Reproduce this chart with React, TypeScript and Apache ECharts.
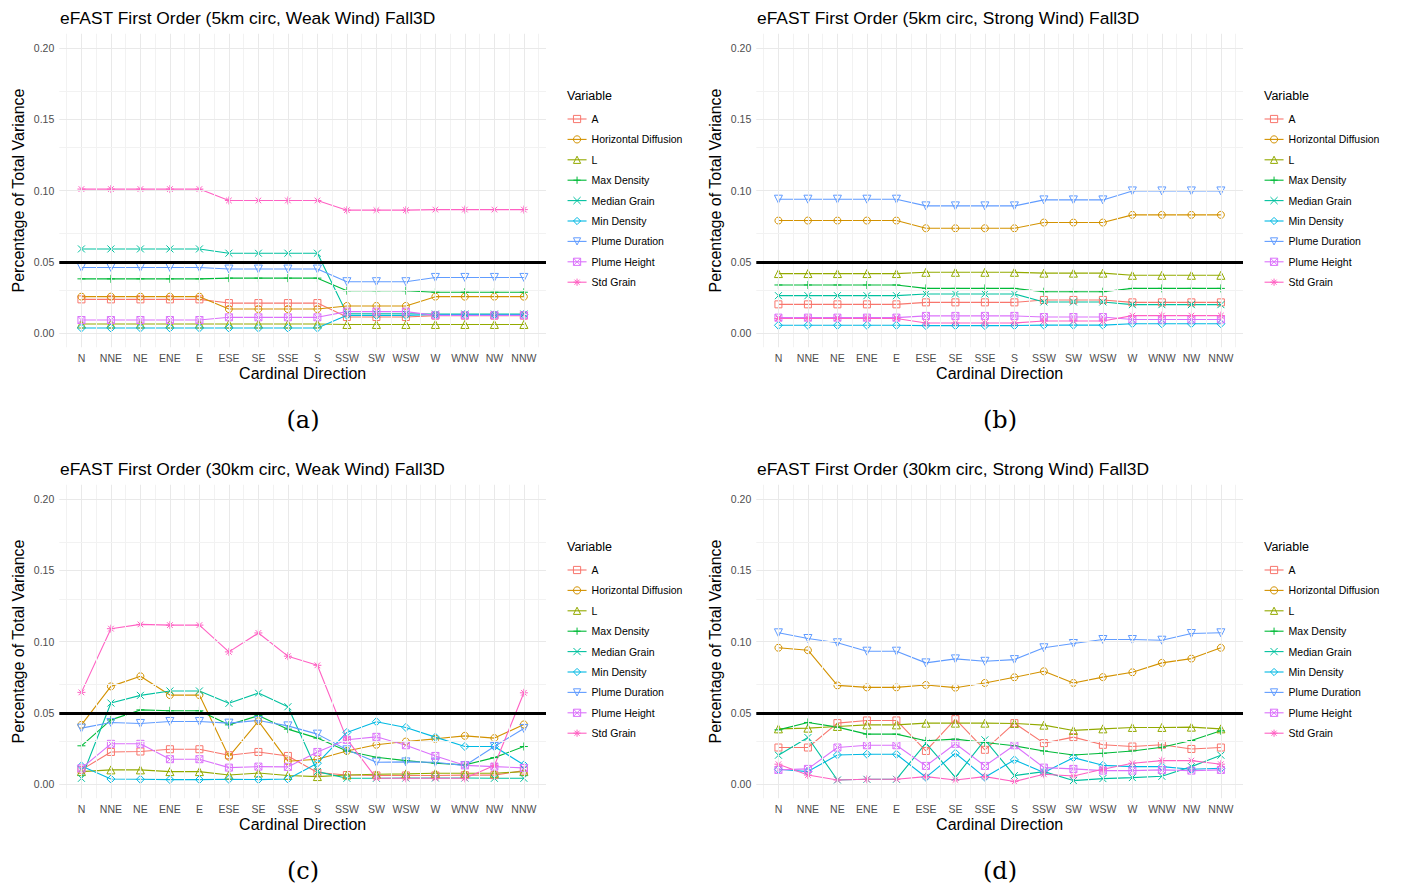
import React, { useEffect, useRef } from 'react';
import * as echarts from 'echarts';

const directions = ['N', 'NNE', 'NE', 'ENE', 'E', 'ESE', 'SE', 'SSE', 'S', 'SSW', 'SW', 'WSW', 'W', 'WNW', 'NW', 'NNW'];
const variables = ['A', 'Horizontal Diffusion', 'L', 'Max Density', 'Median Grain', 'Min Density', 'Plume Duration', 'Plume Height', 'Std Grain'];
const colors = ['#F8766D', '#D39200', '#93AA00', '#00BA38', '#00C19F', '#00B9E3', '#619CFF', '#DB72FB', '#FF61C3'];
const yTicks = [0, 0.05, 0.1, 0.15, 0.2];
const threshold = 0.05;
const panelTitles = [
  'eFAST First Order (5km circ, Weak Wind) Fall3D',
  'eFAST First Order (5km circ, Strong Wind) Fall3D',
  'eFAST First Order (30km circ, Weak Wind) Fall3D',
  'eFAST First Order (30km circ, Strong Wind) Fall3D',
];
const panelLetters = ['(a)', '(b)', '(c)', '(d)'];

// Panel (a): 5km circ, weak wind
const aA = [0.0236, 0.0236, 0.0236, 0.0236, 0.0236, 0.021, 0.021, 0.021, 0.021, 0.0112, 0.0112, 0.0112, 0.0122, 0.0122, 0.0122, 0.0122];
const aHD = [0.0255, 0.0255, 0.0255, 0.0255, 0.0255, 0.0168, 0.0168, 0.0168, 0.0168, 0.019, 0.019, 0.019, 0.0255, 0.0255, 0.0255, 0.0255];
const aL = [0.0063, 0.0063, 0.0063, 0.0063, 0.0063, 0.0063, 0.0063, 0.0063, 0.0063, 0.006, 0.006, 0.006, 0.006, 0.006, 0.006, 0.006];
const aMaxD = [0.038, 0.038, 0.038, 0.038, 0.038, 0.0385, 0.0385, 0.0385, 0.0385, 0.0297, 0.0297, 0.0297, 0.0286, 0.0286, 0.0286, 0.0286];
const aMedG = [0.059, 0.059, 0.059, 0.059, 0.059, 0.056, 0.056, 0.056, 0.056, 0.0135, 0.0135, 0.0135, 0.0133, 0.0133, 0.0133, 0.0133];
const aMinD = [0.0035, 0.0035, 0.0035, 0.0035, 0.0035, 0.0035, 0.0035, 0.0035, 0.0035, 0.0124, 0.0124, 0.0124, 0.013, 0.013, 0.013, 0.013];
const aPD = [0.046, 0.046, 0.046, 0.046, 0.046, 0.0449, 0.0449, 0.0449, 0.0449, 0.036, 0.036, 0.036, 0.039, 0.039, 0.039, 0.039];
const aPH = [0.0091, 0.0091, 0.0091, 0.0091, 0.0091, 0.011, 0.011, 0.011, 0.011, 0.015, 0.015, 0.015, 0.0124, 0.0124, 0.0124, 0.0124];
const aSG = [0.101, 0.101, 0.101, 0.101, 0.101, 0.093, 0.093, 0.093, 0.093, 0.0862, 0.0862, 0.0862, 0.0866, 0.0866, 0.0866, 0.0866];

// Panel (b): 5km circ, strong wind
const bA = [0.0201, 0.0201, 0.0201, 0.0201, 0.0201, 0.0215, 0.0215, 0.0215, 0.0215, 0.0232, 0.0232, 0.0232, 0.0215, 0.0215, 0.0215, 0.0215];
const bHD = [0.0789, 0.0789, 0.0789, 0.0789, 0.0789, 0.0735, 0.0735, 0.0735, 0.0735, 0.0775, 0.0775, 0.0775, 0.0829, 0.0829, 0.0829, 0.0829];
const bL = [0.0417, 0.0417, 0.0417, 0.0417, 0.0417, 0.0426, 0.0426, 0.0426, 0.0426, 0.042, 0.042, 0.042, 0.0405, 0.0405, 0.0405, 0.0405];
const bMaxD = [0.0337, 0.0337, 0.0337, 0.0337, 0.0337, 0.0313, 0.0313, 0.0313, 0.0313, 0.029, 0.029, 0.029, 0.0313, 0.0313, 0.0313, 0.0313];
const bMedG = [0.0262, 0.0262, 0.0262, 0.0262, 0.0262, 0.0274, 0.0274, 0.0274, 0.0274, 0.0218, 0.0218, 0.0218, 0.0199, 0.0199, 0.0199, 0.0199];
const bMinD = [0.0054, 0.0054, 0.0054, 0.0054, 0.0054, 0.0052, 0.0052, 0.0052, 0.0052, 0.0055, 0.0055, 0.0055, 0.0065, 0.0065, 0.0065, 0.0065];
const bPD = [0.0939, 0.0939, 0.0939, 0.0939, 0.0939, 0.0892, 0.0892, 0.0892, 0.0892, 0.0934, 0.0934, 0.0934, 0.0997, 0.0997, 0.0997, 0.0997];
const bPH = [0.0108, 0.0108, 0.0108, 0.0108, 0.0108, 0.012, 0.012, 0.012, 0.012, 0.0112, 0.0112, 0.0112, 0.0095, 0.0095, 0.0095, 0.0095];
const bSG = [0.0102, 0.0102, 0.0102, 0.0102, 0.0102, 0.007, 0.007, 0.007, 0.007, 0.0084, 0.0084, 0.0084, 0.0122, 0.0122, 0.0122, 0.0122];

// Panel (c): 30km circ, weak wind
const cA = [0.0099, 0.0225, 0.0228, 0.0244, 0.0244, 0.0202, 0.0225, 0.0197, 0.008, 0.0063, 0.006, 0.006, 0.006, 0.0062, 0.0062, 0.0094];
const cHD = [0.0415, 0.0685, 0.0756, 0.0624, 0.0624, 0.0192, 0.0441, 0.016, 0.0174, 0.0232, 0.0275, 0.0298, 0.0317, 0.0338, 0.0322, 0.0418];
const cL = [0.0087, 0.0099, 0.0099, 0.0087, 0.0087, 0.0063, 0.0077, 0.006, 0.0052, 0.0063, 0.0068, 0.0071, 0.0075, 0.0075, 0.0075, 0.0087];
const cMaxD = [0.0268, 0.045, 0.052, 0.0514, 0.0514, 0.0415, 0.048, 0.0385, 0.0322, 0.0232, 0.0188, 0.0164, 0.0146, 0.0134, 0.0185, 0.0263];
const cMedG = [0.004, 0.0568, 0.0622, 0.0653, 0.0653, 0.0566, 0.0638, 0.0542, 0.0087, 0.004, 0.004, 0.0042, 0.0042, 0.0042, 0.004, 0.004];
const cMinD = [0.0127, 0.0035, 0.0033, 0.0031, 0.0031, 0.0033, 0.0031, 0.0035, 0.0146, 0.0362, 0.0437, 0.0397, 0.0329, 0.0263, 0.0263, 0.0134];
const cPD = [0.0392, 0.0432, 0.0425, 0.0439, 0.0439, 0.0427, 0.0446, 0.0408, 0.035, 0.024, 0.0153, 0.0155, 0.0153, 0.0129, 0.0263, 0.039];
const cPH = [0.011, 0.0282, 0.0282, 0.0174, 0.0174, 0.0115, 0.0122, 0.012, 0.0225, 0.031, 0.0331, 0.0272, 0.0197, 0.0131, 0.0122, 0.0113];
const cSG = [0.0643, 0.109, 0.112, 0.1115, 0.1115, 0.0927, 0.106, 0.0897, 0.0833, 0.0315, 0.004, 0.004, 0.004, 0.004, 0.0129, 0.064];

// Panel (d): 30km circ, strong wind
const dA = [0.0256, 0.0256, 0.0427, 0.0446, 0.0446, 0.0232, 0.0455, 0.024, 0.0427, 0.0287, 0.0329, 0.0275, 0.0263, 0.0275, 0.0246, 0.0256];
const dHD = [0.0956, 0.0939, 0.0692, 0.0678, 0.0678, 0.0695, 0.0676, 0.0709, 0.0749, 0.0791, 0.0709, 0.075, 0.0784, 0.085, 0.088, 0.0956];
const dL = [0.0387, 0.0392, 0.0404, 0.0415, 0.0415, 0.0427, 0.0427, 0.0427, 0.0425, 0.0413, 0.0376, 0.0387, 0.0397, 0.0397, 0.0399, 0.0387];
const dMaxD = [0.038, 0.0432, 0.0399, 0.035, 0.035, 0.0303, 0.0315, 0.0291, 0.0268, 0.0232, 0.0204, 0.0216, 0.0232, 0.0258, 0.0305, 0.0373];
const dMedG = [0.0202, 0.0326, 0.0028, 0.0033, 0.0033, 0.0287, 0.0047, 0.031, 0.0059, 0.0087, 0.0024, 0.0038, 0.0045, 0.0054, 0.0122, 0.0202];
const dMinD = [0.0103, 0.0087, 0.0204, 0.0209, 0.0209, 0.0047, 0.0216, 0.0047, 0.0169, 0.008, 0.0185, 0.0131, 0.0122, 0.0122, 0.0103, 0.011];
const dPD = [0.1061, 0.1021, 0.0991, 0.0932, 0.0932, 0.085, 0.0878, 0.0861, 0.0873, 0.0956, 0.0986, 0.1014, 0.1014, 0.1009, 0.1056, 0.1061];
const dPH = [0.0099, 0.0106, 0.0256, 0.0272, 0.0272, 0.0127, 0.0282, 0.0127, 0.0272, 0.0115, 0.0106, 0.0094, 0.0094, 0.0099, 0.0094, 0.0099];
const dSG = [0.0139, 0.0063, 0.0028, 0.0033, 0.0033, 0.0052, 0.0028, 0.0052, 0.0017, 0.0068, 0.0056, 0.0103, 0.0146, 0.0164, 0.0164, 0.0139];

const panelData = [
  [aA, aHD, aL, aMaxD, aMedG, aMinD, aPD, aPH, aSG],
  [bA, bHD, bL, bMaxD, bMedG, bMinD, bPD, bPH, bSG],
  [cA, cHD, cL, cMaxD, cMedG, cMinD, cPD, cPH, cSG],
  [dA, dHD, dL, dMaxD, dMedG, dMinD, dPD, dPH, dSG],
];

const symbols = [
  'rect',
  'circle',
  'triangle',
  'path://M5 0L5 10M0 5L10 5',
  'path://M0 0L10 10M10 0L0 10',
  'diamond',
  'path://M0 0L10 0L5 8.66Z',
  'path://M0 0L10 0L10 10L0 10ZM0 0L10 10M10 0L0 10',
  'path://M5 0L5 10M0 5L10 5M1.46 1.46L8.54 8.54M8.54 1.46L1.46 8.54',
];
const symbolSizes = [7, 7, 8, 8, 7, 8, 8, 7, 8];

const FONT = "'Liberation Sans', Arial, Helvetica, sans-serif";
const HOLLOW = 'rgba(255,255,255,0)';

function buildOption() {
  const offsets = [
    [0, 0],
    [697, 0],
    [0, 451],
    [697, 451],
  ];
  const grids: any[] = [];
  const xAxes: any[] = [];
  const yAxes: any[] = [];
  const series: any[] = [];
  const legends: any[] = [];
  const titles: any[] = [];
  const graphics: any[] = [];

  const xMajor = directions.map((_, i) => i + 1);
  const xMinor = directions.map((_, i) => i + 0.5).concat([16.5]);
  const yMinor = [0.025, 0.075, 0.125, 0.175];

  offsets.forEach(([dx, dy], p) => {
    grids.push({ left: 59.3 + dx, top: 33.75 + dy, width: 486.7, height: 313.5, containLabel: false });
    xAxes.push({
      type: 'value',
      gridIndex: p,
      min: 0.25,
      max: 16.75,
      axisLine: { show: false },
      axisTick: { show: false },
      splitLine: { show: false },
      axisLabel: {
        customValues: xMajor,
        formatter: (v: number) => directions[Math.round(v) - 1] || '',
        fontSize: 10.5,
        color: '#4d4d4d',
        margin: 5,
        fontFamily: FONT,
      },
      name: 'Cardinal Direction',
      nameLocation: 'middle',
      nameGap: 18,
      nameTextStyle: { fontSize: 16, color: '#000', fontFamily: FONT },
    });
    yAxes.push({
      type: 'value',
      gridIndex: p,
      min: -0.01,
      max: 0.21,
      axisLine: { show: false },
      axisTick: { show: false },
      splitLine: { show: false },
      axisLabel: {
        customValues: yTicks,
        formatter: (v: number) => v.toFixed(2),
        fontSize: 10.5,
        color: '#4d4d4d',
        margin: 5,
        fontFamily: FONT,
      },
      name: 'Percentage of Total Variance',
      nameLocation: 'middle',
      nameGap: 33,
      nameTextStyle: { fontSize: 16, color: '#000', fontFamily: FONT },
    });

    // grid lines
    const gridLines: any[] = [];
    xMinor.forEach((v) => gridLines.push({ xAxis: v, lineStyle: { color: '#f2f2f2', width: 1, type: 'solid' } }));
    xMajor.forEach((v) => gridLines.push({ xAxis: v, lineStyle: { color: '#e9e9e9', width: 1, type: 'solid' } }));
    yMinor.forEach((v) => gridLines.push({ yAxis: v, lineStyle: { color: '#f2f2f2', width: 1, type: 'solid' } }));
    yTicks.forEach((v) => gridLines.push({ yAxis: v, lineStyle: { color: '#e9e9e9', width: 1, type: 'solid' } }));
    series.push({
      type: 'line',
      xAxisIndex: p,
      yAxisIndex: p,
      data: [],
      silent: true,
      z: 1,
      markLine: { silent: true, symbol: ['none', 'none'], label: { show: false }, animation: false, data: gridLines, emphasis: { disabled: true } },
    });

    variables.forEach((name, k) => {
      const c = colors[k];
      series.push({
        type: 'line',
        name,
        xAxisIndex: p,
        yAxisIndex: p,
        data: panelData[p][k].map((v, i) => [i + 1, v]),
        symbol: symbols[k],
        symbolSize: symbolSizes[k],
        showAllSymbol: true,
        lineStyle: { color: c, width: 1.1 },
        itemStyle: { color: HOLLOW, borderColor: c, borderWidth: 1 },
        emphasis: { disabled: true },
        z: 3,
      });
    });

    series.push({
      type: 'line',
      xAxisIndex: p,
      yAxisIndex: p,
      data: [],
      silent: true,
      z: 5,
      markLine: {
        silent: true,
        symbol: ['none', 'none'],
        label: { show: false },
        animation: false,
        emphasis: { disabled: true },
        data: [{ yAxis: threshold, lineStyle: { color: '#000', width: 3, type: 'solid' } }],
      },
    });

    legends.push({
      data: variables.map((name, k) => ({
        name,
        itemStyle: { color: HOLLOW, borderColor: colors[k], borderWidth: 1 },
        lineStyle: { color: colors[k], width: 1.1 },
      })),
      orient: 'vertical',
      left: 567 + dx,
      top: 113 + dy,
      padding: 0,
      itemWidth: 19,
      itemHeight: 9,
      itemGap: 8.4,
      selectedMode: false,
      textStyle: { fontSize: 10.5, color: '#000', fontFamily: FONT, lineHeight: 12 },
    });

    titles.push({
      text: panelTitles[p],
      left: 60 + dx,
      top: 9 + dy,
      padding: 0,
      textStyle: { fontSize: 17.4, fontWeight: 'normal', color: '#000', fontFamily: FONT },
    });
    titles.push({
      text: 'Variable',
      left: 567 + dx,
      top: 89 + dy,
      padding: 0,
      textStyle: { fontSize: 12.5, fontWeight: 'normal', color: '#000', fontFamily: FONT },
    });

    graphics.push({
      type: 'text',
      x: 303 + dx,
      y: 420 + dy,
      style: {
        text: panelLetters[p],
        align: 'center',
        verticalAlign: 'middle',
        textAlign: 'center',
        textVerticalAlign: 'middle',
        fontSize: 24,
        fontFamily: "'DejaVu Serif', serif",
        fill: '#000',
      },
    });
  });

  return {
    animation: false,
    backgroundColor: '#ffffff',
    textStyle: { fontFamily: FONT },
    title: titles,
    grid: grids,
    xAxis: xAxes,
    yAxis: yAxes,
    legend: legends,
    series,
    graphic: graphics,
  };
}

export default function App() {
  const ref = useRef<HTMLDivElement>(null);
  useEffect(() => {
    if (!ref.current) return;
    const chart = echarts.init(ref.current, undefined, { renderer: 'svg' });
    chart.setOption(buildOption() as any);
    return () => chart.dispose();
  }, []);
  return <div ref={ref} style={{ position: 'absolute', left: 0, top: 0, width: 1401, height: 889, background: '#fff' }} />;
}
